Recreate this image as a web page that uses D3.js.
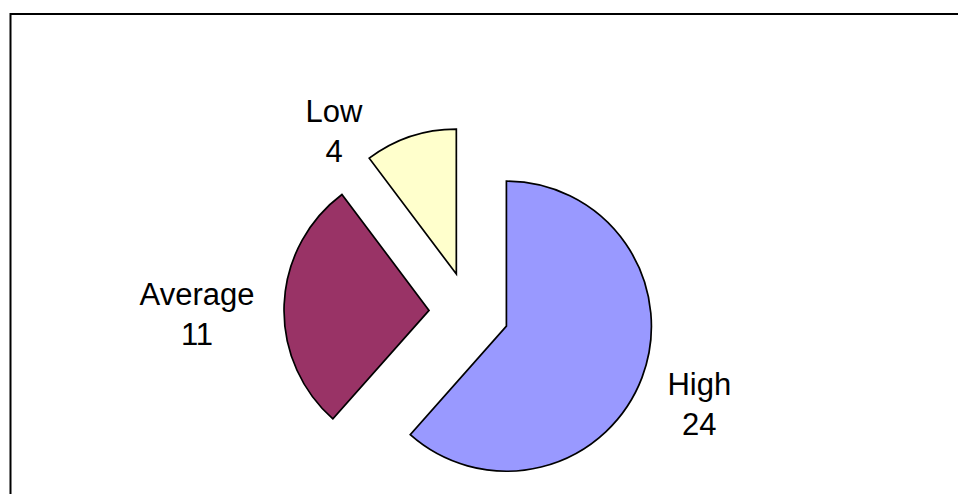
<!DOCTYPE html>
<html>
<head>
<meta charset="utf-8">
<script src="https://d3js.org/d3.v7.min.js"></script>
<style>
  body { margin: 0; background: #fff; }
  svg { display: block; }
  text { font-family: "Liberation Sans", Arial, sans-serif; font-size: 31px; fill: #000; }
</style>
</head>
<body>
<svg width="958" height="494"></svg>
<script>
// chart data
var categories = ["High", "Average", "Low"];
var values = [24, 11, 4];
var colors = ["#9999ff", "#993366", "#ffffcc"];

// layout
var cx = 469, cy = 312, radius = 145, explode = 40;
var deg = Math.PI / 180;
var labelRadius = [248, 272, 226];
var labelAngleShift = [1 * deg, -2.7 * deg, -18.2 * deg];

var svg = d3.select("svg");

// frame
svg.append("rect")
	.attr("x", 10.5).attr("y", 14)
	.attr("width", 1000).attr("height", 600)
	.attr("fill", "none")
	.attr("stroke", "#000")
	.attr("stroke-width", 2);

var pie = d3.pie().sort(null).value(function(d) { return d; });
var arcs = pie(values);

var arc = d3.arc().innerRadius(0).outerRadius(radius);

function dir(a) { return [Math.sin(a), -Math.cos(a)]; }

var g = svg.append("g").attr("transform", "translate(" + cx + "," + cy + ")");

g.selectAll("path.slice")
	.data(arcs)
	.enter().append("path")
	.attr("class", "slice")
	.attr("d", arc)
	.attr("fill", function(d, i) { return colors[i]; })
	.attr("stroke", "#000")
	.attr("stroke-width", 1.7)
	.attr("stroke-linejoin", "miter")
	.attr("transform", function(d) {
		var v = dir((d.startAngle + d.endAngle) / 2);
		return "translate(" + v[0] * explode + "," + v[1] * explode + ")";
	});

// labels: name on first line, value on second; anchor is the box centre
var lineGap = 40;

var lbl = g.selectAll("g.label")
	.data(arcs)
	.enter().append("g")
	.attr("class", "label")
	.attr("transform", function(d, i) {
		var v = dir((d.startAngle + d.endAngle) / 2 + labelAngleShift[i]);
		return "translate(" + v[0] * labelRadius[i] + "," + (v[1] * labelRadius[i] - 9) + ")";
	});

lbl.append("text")
	.attr("text-anchor", "middle")
	.text(function(d, i) { return categories[i]; });
lbl.append("text")
	.attr("text-anchor", "middle")
	.attr("y", lineGap)
	.text(function(d) { return d.data; });
</script>
</body>
</html>
